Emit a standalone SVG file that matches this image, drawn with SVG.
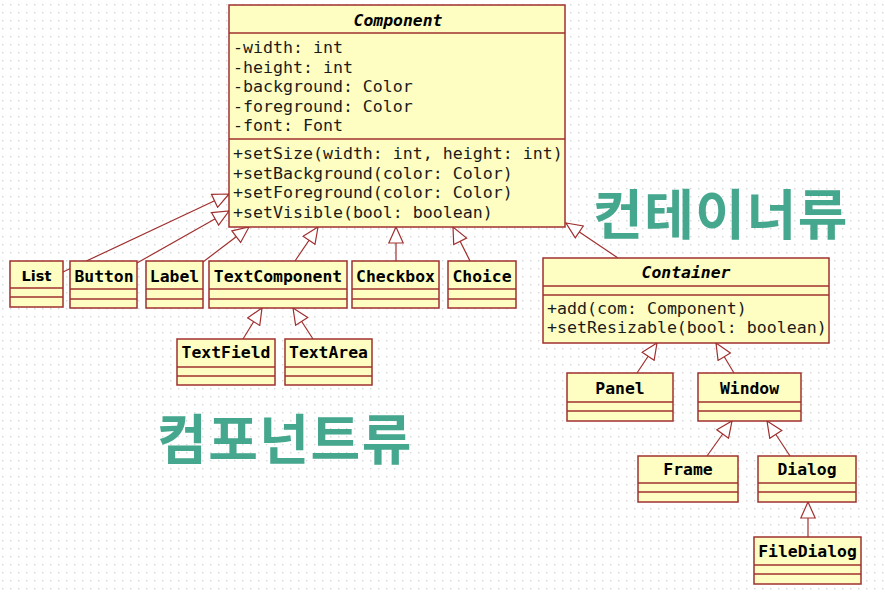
<svg xmlns="http://www.w3.org/2000/svg" width="885" height="592" viewBox="0 0 885 592">
<defs>
<pattern id="grid" x="2" y="4" width="8" height="8" patternUnits="userSpaceOnUse">
<rect x="0" y="0" width="1.4" height="1.4" fill="#d6d6d6"/>
</pattern>
<marker id="tri" viewBox="0 0 18 16" refX="17" refY="8" markerWidth="18" markerHeight="16" markerUnits="userSpaceOnUse" orient="auto">
<path d="M1,0.8 L17,8 L1,15.2 z" fill="#ffffff" stroke="#a0302f" stroke-width="1.2"/>
</marker>
<style>
.box{fill:#fefec2;stroke:#a0302f;stroke-width:1.5}
.div{stroke:#a0302f;stroke-width:1.5}
.t{font-family:"DejaVu Sans Mono","Liberation Mono",monospace;font-size:16.6px;fill:#1a1a1a}
.n{font-family:"DejaVu Sans Mono","Liberation Mono",monospace;font-size:16.4px;font-weight:bold;fill:#000;text-anchor:middle}
.i{font-style:italic}
.ln{stroke:#a0302f;stroke-width:1.2;fill:none;marker-end:url(#tri)}
.kr{font-family:"Noto Sans CJK KR","Noto Sans CJK SC",sans-serif;font-size:54px;font-weight:bold;fill:#45a78d;letter-spacing:1.5px}
</style>
</defs>
<rect width="885" height="592" fill="#ffffff"/>
<rect width="885" height="592" fill="url(#grid)"/>

<g id="connectors">
<line class="ln" x1="63" y1="272" x2="229" y2="194"/>
<line class="ln" x1="137" y1="263" x2="229" y2="211"/>
<line class="ln" x1="203" y1="262" x2="249" y2="227"/>
<line class="ln" x1="295" y1="261" x2="318" y2="227"/>
<line class="ln" x1="396" y1="261" x2="396" y2="227"/>
<line class="ln" x1="470" y1="261" x2="453" y2="227"/>
<line class="ln" x1="618" y1="258" x2="566" y2="223"/>
<line class="ln" x1="243" y1="339" x2="262" y2="308"/>
<line class="ln" x1="313" y1="339" x2="293" y2="308"/>
<line class="ln" x1="637" y1="373" x2="657" y2="343"/>
<line class="ln" x1="734" y1="373" x2="716" y2="343"/>
<line class="ln" x1="707" y1="456" x2="732" y2="421"/>
<line class="ln" x1="790" y1="456" x2="767" y2="421"/>
<line class="ln" x1="808" y1="537" x2="808" y2="502"/>
</g>

<g id="Component">
<rect class="box" x="229" y="5" width="336" height="222"/>
<line class="div" x1="229" y1="33" x2="565" y2="33"/>
<line class="div" x1="229" y1="139" x2="565" y2="139"/>
<text class="n i" x="398" y="26">Component</text>
<text class="t" x="233" y="53">-width: int</text>
<text class="t" x="233" y="72.5">-height: int</text>
<text class="t" x="233" y="92">-background: Color</text>
<text class="t" x="233" y="111.5">-foreground: Color</text>
<text class="t" x="233" y="131">-font: Font</text>
<text class="t" x="233" y="159">+setSize(width: int, height: int)</text>
<text class="t" x="233" y="178.5">+setBackground(color: Color)</text>
<text class="t" x="233" y="198">+setForeground(color: Color)</text>
<text class="t" x="233" y="217.5">+setVisible(bool: boolean)</text>
</g>

<g id="List">
<rect class="box" x="10" y="261" width="53" height="46"/>
<line class="div" x1="10" y1="288" x2="63" y2="288"/>
<line class="div" x1="10" y1="297" x2="63" y2="297"/>
<text class="n" x="36.5" y="281" style="font-size:14.5px;font-family:'DejaVu Sans',sans-serif">List</text>
</g>
<g id="Button">
<rect class="box" x="70" y="261" width="67" height="47"/>
<line class="div" x1="70" y1="289" x2="137" y2="289"/>
<line class="div" x1="70" y1="299" x2="137" y2="299"/>
<text class="n" x="104" y="282">Button</text>
</g>
<g id="Label">
<rect class="box" x="146" y="261" width="57" height="47"/>
<line class="div" x1="146" y1="289" x2="203" y2="289"/>
<line class="div" x1="146" y1="299" x2="203" y2="299"/>
<text class="n" x="174.5" y="282">Label</text>
</g>
<g id="TextComponent">
<rect class="box" x="209" y="261" width="138" height="47"/>
<line class="div" x1="209" y1="289" x2="347" y2="289"/>
<line class="div" x1="209" y1="299" x2="347" y2="299"/>
<text class="n" x="278" y="282">TextComponent</text>
</g>
<g id="Checkbox">
<rect class="box" x="352" y="261" width="87" height="47"/>
<line class="div" x1="352" y1="289" x2="439" y2="289"/>
<line class="div" x1="352" y1="299" x2="439" y2="299"/>
<text class="n" x="395.5" y="282">Checkbox</text>
</g>
<g id="Choice">
<rect class="box" x="448" y="261" width="68" height="47"/>
<line class="div" x1="448" y1="289" x2="516" y2="289"/>
<line class="div" x1="448" y1="299" x2="516" y2="299"/>
<text class="n" x="482" y="282">Choice</text>
</g>
<g id="TextField">
<rect class="box" x="177" y="339" width="98" height="46"/>
<line class="div" x1="177" y1="367" x2="275" y2="367"/>
<line class="div" x1="177" y1="376" x2="275" y2="376"/>
<text class="n" x="226" y="358">TextField</text>
</g>
<g id="TextArea">
<rect class="box" x="285" y="339" width="87" height="46"/>
<line class="div" x1="285" y1="367" x2="372" y2="367"/>
<line class="div" x1="285" y1="376" x2="372" y2="376"/>
<text class="n" x="328.5" y="358">TextArea</text>
</g>

<g id="Container">
<rect class="box" x="543" y="258" width="286" height="85"/>
<line class="div" x1="543" y1="286" x2="829" y2="286"/>
<line class="div" x1="543" y1="295" x2="829" y2="295"/>
<text class="n i" x="686" y="278">Container</text>
<text class="t" x="547" y="314">+add(com: Component)</text>
<text class="t" x="547" y="333">+setResizable(bool: boolean)</text>
</g>
<g id="Panel">
<rect class="box" x="567" y="373" width="106" height="48"/>
<line class="div" x1="567" y1="402" x2="673" y2="402"/>
<line class="div" x1="567" y1="411" x2="673" y2="411"/>
<text class="n" x="620" y="394">Panel</text>
</g>
<g id="Window">
<rect class="box" x="698" y="373" width="103" height="48"/>
<line class="div" x1="698" y1="402" x2="801" y2="402"/>
<line class="div" x1="698" y1="411" x2="801" y2="411"/>
<text class="n" x="749.5" y="394">Window</text>
</g>
<g id="Frame">
<rect class="box" x="638" y="456" width="100" height="46"/>
<line class="div" x1="638" y1="483" x2="738" y2="483"/>
<line class="div" x1="638" y1="492" x2="738" y2="492"/>
<text class="n" x="688" y="475">Frame</text>
</g>
<g id="Dialog">
<rect class="box" x="758" y="456" width="98" height="46"/>
<line class="div" x1="758" y1="483" x2="856" y2="483"/>
<line class="div" x1="758" y1="492" x2="856" y2="492"/>
<text class="n" x="807" y="475">Dialog</text>
</g>
<g id="FileDialog">
<rect class="box" x="754" y="537" width="107" height="47"/>
<line class="div" x1="754" y1="565" x2="861" y2="565"/>
<line class="div" x1="754" y1="574" x2="861" y2="574"/>
<text class="n" x="807.5" y="557">FileDialog</text>
</g>

<text class="kr" x="593" y="235">컨테이너류</text>
<text class="kr" x="157" y="460">컴포넌트류</text>
</svg>
